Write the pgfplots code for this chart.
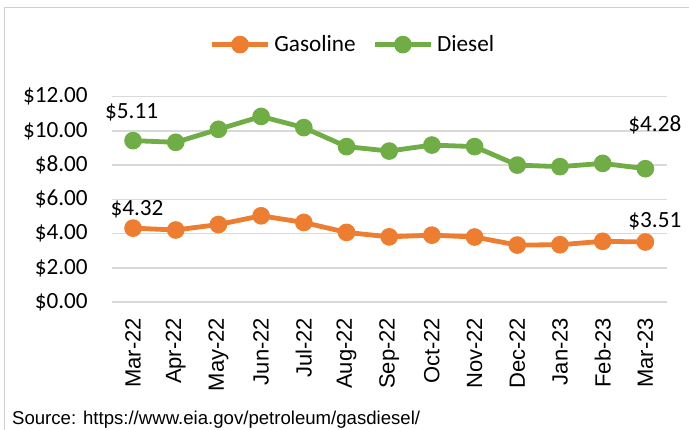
\documentclass[border=0pt]{standalone}
\usepackage{fontspec}
\setmainfont{Carlito}
\newfontfamily\arial{Liberation Sans}
\usepackage{pgfplots}
\pgfplotsset{compat=1.18}
\definecolor{gas}{HTML}{ED7D31}
\definecolor{dsl}{HTML}{70AD47}
\definecolor{gridc}{HTML}{D9D9D9}
\definecolor{framec}{HTML}{D0D0D0}
\begin{document}
\begin{tikzpicture}
\useasboundingbox (0,0) rectangle (344.5pt,214.5pt);
\draw[framec, line width=0.9pt] (2.25pt,-20pt) -- (2.25pt,210.75pt) -- (380pt,210.75pt);
\begin{axis}[
  at={(55.85pt,63.45pt)}, anchor=south west, scale only axis,
  width=277.5pt, height=102.75pt,
  xmin=-0.5, xmax=12.5, ymin=0, ymax=12,
  xtick={0,...,12},
  xticklabels={Mar-22,Apr-22,May-22,Jun-22,Jul-22,Aug-22,Sep-22,Oct-22,Nov-22,Dec-22,Jan-23,Feb-23,Mar-23},
  ytick={0,2,...,12},
  yticklabel={\$\pgfmathprintnumber[fixed,fixed zerofill,precision=2]{\tick}},
  ymajorgrids, grid style={gridc, line width=0.75pt},
  axis line style={draw=none}, major tick length=0pt,
  x tick label style={rotate=90, anchor=east, inner sep=0pt, font=\arial\fontsize{11}{13}\selectfont},
  xticklabel shift=7.7pt,
  y tick label style={anchor=east, inner sep=0pt, font=\fontsize{11.6}{14}\selectfont},
  yticklabel shift=11.8pt,
  /pgf/number format/assume math mode=true,
  stack plots=y,
  clip=false,
  every axis plot/.append style={line width=2.4pt, mark=*, mark size=3.2pt},
  legend image code/.code={\draw[mark repeat=2,mark phase=2,#1] plot coordinates {(0pt,0pt) (13.9pt,0pt) (27.8pt,0pt)};},
  legend style={at={(0.4366,1.253)}, anchor=center, draw=none, fill=none,
    font=\fontsize{11.6}{14}\selectfont, legend columns=2,
    /tikz/every even column/.append style={column sep=6.5pt}},
]
\addplot[gas, mark options={fill=gas, draw=gas}] coordinates {
(0,4.32) (1,4.21) (2,4.53) (3,5.04) (4,4.65) (5,4.07) (6,3.81) (7,3.91) (8,3.80) (9,3.33) (10,3.35) (11,3.55) (12,3.51)};
\addlegendentry{Gasoline}
\addplot[dsl, mark options={fill=dsl, draw=dsl}] coordinates {
(0,5.11) (1,5.12) (2,5.56) (3,5.80) (4,5.54) (5,5.01) (6,5.01) (7,5.26) (8,5.28) (9,4.67) (10,4.56) (11,4.55) (12,4.28)};
\addlegendentry{Diesel}
\node[font=\fontsize{11.6}{14}\selectfont, xshift=-0.7pt, yshift=14.35pt] at (axis cs:0,9.43) {\$5.11};
\node[font=\fontsize{11.6}{14}\selectfont, xshift=2pt, yshift=9.5pt] at (axis cs:0,4.32) {\$4.32};
\node[font=\fontsize{11.6}{14}\selectfont, xshift=4.75pt, yshift=21.7pt] at (axis cs:12,7.79) {\$4.28};
\node[font=\fontsize{11.6}{14}\selectfont, xshift=4.75pt, yshift=10.15pt] at (axis cs:12,3.51) {\$3.51};
\end{axis}
\node[anchor=base west, font=\arial\fontsize{9.3}{11}\selectfont, inner sep=0pt] at (5.85pt,2.2pt) {Source: https://www.eia.gov/petroleum/gasdiesel/};
\end{tikzpicture}
\end{document}
